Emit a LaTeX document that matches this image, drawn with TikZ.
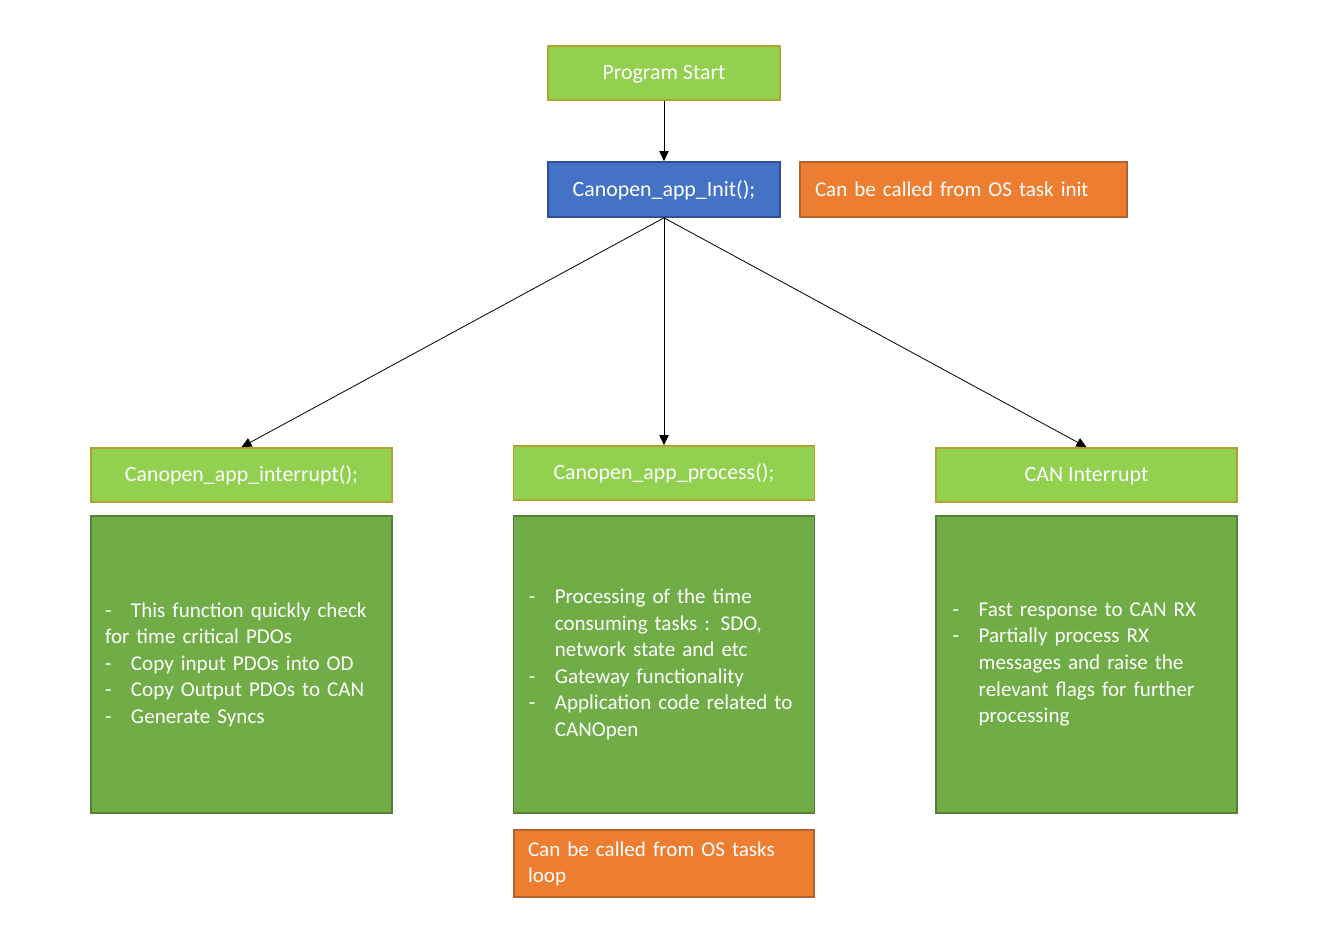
\documentclass[tikz,border=0pt]{standalone}
\usepackage{fontspec}
\setmainfont{Carlito}
\usetikzlibrary{arrows.meta}

\definecolor{hellgruen}{HTML}{92D050}
\definecolor{olivrand}{HTML}{B0A22E}
\definecolor{dunkelgruen}{HTML}{70AD47}
\definecolor{gruenrand}{HTML}{548235}
\definecolor{blau}{HTML}{4472C4}
\definecolor{blaurand}{HTML}{2F528F}
\definecolor{notizorange}{HTML}{ED7D31}
\definecolor{orangerand}{HTML}{B4622A}

% Spiegelstrich mit Tabulator
\newcommand{\strich}{\makebox[19.5pt][l]{-}}
\newcommand{\einzug}{\hspace*{19.5pt}}

\begin{document}
\begin{tikzpicture}[x=0.75pt, y=-0.75pt,
	kasten/.style={draw, line width=1.3pt, text=white, inner sep=0pt,
		font=\fontsize{16.4}{19.9}\selectfont},
	einzeilig/.style={text height=13pt, text depth=2.7pt},
	kopf/.style={kasten, einzeilig, fill=hellgruen, draw=olivrand,
		minimum width=225.75pt, minimum height=40.5pt},
	inhalt/.style={kasten, fill=dunkelgruen, draw=gruenrand, align=left,
		minimum height=222.75pt,
		font=\fontsize{15.8}{19.9}\selectfont},
	notiz/.style={kasten, fill=notizorange, draw=orangerand, align=left,
		font=\fontsize{15.8}{19.5}\selectfont},
	pfeil/.style={-{Triangle[length=7.5pt, width=7pt]}, line width=0.6pt}]
	% Hintergrund
	\fill[white] (0, 0) rectangle (1340, 927);

	% oben
	\node[kopf, minimum width=174pt] (start) at (664, 73) {Program Start};
	\node[kasten, einzeilig, fill=blau, draw=blaurand, minimum width=174pt,
		minimum height=41.25pt] (init) at (664, 189.5) {Canopen\_app\_Init();};
	\node[notiz, einzeilig, inner xsep=11.25pt, text width=222.75pt,
		minimum height=41.25pt] (osinit) at (963.5, 189.5)
		{Can be called from OS task init};

	% Funktionen
	\node[kopf] (irq) at (241.5, 475) {Canopen\_app\_interrupt();};
	\node[kopf] (proc) at (664, 473) {Canopen\_app\_process();};
	\node[kopf] (canirq) at (1086.5, 475) {CAN Interrupt};

	% Beschreibungen
	\node[inhalt, inner xsep=10.5pt, text width=204.75pt] (irqtext)
		at (241.5, 664.5) {\strich This function quickly check\\
		for time critical PDOs\\
		\strich Copy input PDOs into OD\\
		\strich Copy Output PDOs to CAN\\
		\strich Generate Syncs};
	\node[inhalt, inner xsep=11.5pt, text width=202.75pt] (proctext)
		at (664, 664.5) {\strich Processing of the time\\
		\einzug consuming tasks : SDO,\\
		\einzug network state and etc\\
		\strich Gateway functionality\\
		\strich \mbox{Application code related to}\\
		\einzug CANOpen};
	\node[inhalt, inner xsep=12.5pt, text width=200.75pt] (canirqtext)
		at (1086.5, 664.5) {\strich Fast response to CAN RX\\
		\strich Partially process RX\\
		\einzug messages and raise the\\
		\einzug relevant flags for further\\
		\einzug processing};

	% unten
	\node[notiz, inner xsep=10.5pt, text width=204pt, minimum height=50.25pt]
		(osloop) at (664, 863.5) {Can be called from OS tasks\\ loop};

	% Pfeile
	\draw[pfeil] (start) -- (init);
	\draw[pfeil] (init.south) -- (irq.north);
	\draw[pfeil] (init.south) -- (proc.north);
	\draw[pfeil] (init.south) -- (canirq.north);
\end{tikzpicture}
\end{document}
